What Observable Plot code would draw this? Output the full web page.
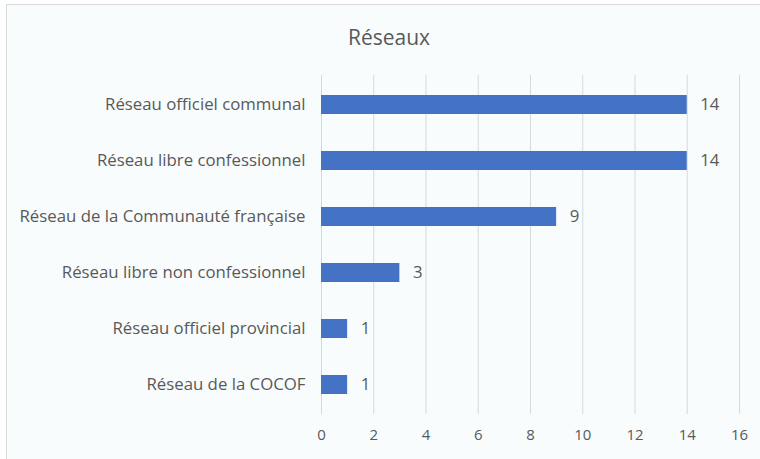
<!DOCTYPE html>
<html><head><meta charset="utf-8">
<script src="https://cdn.jsdelivr.net/npm/d3@7"></script>
<script src="https://cdn.jsdelivr.net/npm/@observablehq/plot@0.6"></script>
<style>
body{margin:0;overflow:hidden;background:#fff;}
#wrap{position:relative;width:760px;height:459px;overflow:hidden;}
#box{position:absolute;left:6px;top:4px;width:800px;height:500px;border:1px solid #d9d9d9;background:#f8fcfd;}
#title{position:absolute;left:0;width:778px;top:23px;text-align:center;font-family:"Open Sans",sans-serif;font-size:21px;line-height:28px;color:#595959;}
#chart{position:absolute;left:0;top:0;}
</style></head>
<body>
<div id="wrap"><div id="box"></div><div id="title">Réseaux</div><div id="chart"></div></div>
<script>
const categories = ["Réseau officiel communal","Réseau libre confessionnel","Réseau de la Communauté française","Réseau libre non confessionnel","Réseau officiel provincial","Réseau de la COCOF"];
const values = [14,14,9,3,1,1];
const xTicks = [0,2,4,6,8,10,12,14,16];
const data = categories.map((c,i)=>({cat:c,value:values[i]}));
const chart = Plot.plot({
  width:760, height:459, marginLeft:321, marginRight:21, marginTop:75, marginBottom:45,
  style:{background:"transparent", fontFamily:"'Open Sans',sans-serif", fontSize:"14px", color:"#595959"},
  x:{domain:[0,16], label:null},
  y:{domain:categories, paddingInner:0.66, paddingOuter:0.33, label:null},
  marks:[
    Plot.ruleX(xTicks,{stroke:"#d9d9d9"}),
    Plot.barX(data,{x:"value", y:"cat", fill:"#4472C4"}),
    Plot.text(data,{x:"value", y:"cat", text:d=>String(d.value), textAnchor:"start", dx:13, fill:"#595959", fontSize:16.8}),
    Plot.axisX({ticks:xTicks, tickSize:0, tickPadding:15, label:null, fontSize:15}),
    Plot.axisY({tickSize:0, tickPadding:16, label:null, fontSize:16.8})
  ]
});
document.getElementById("chart").appendChild(chart);
</script>
</body></html>
